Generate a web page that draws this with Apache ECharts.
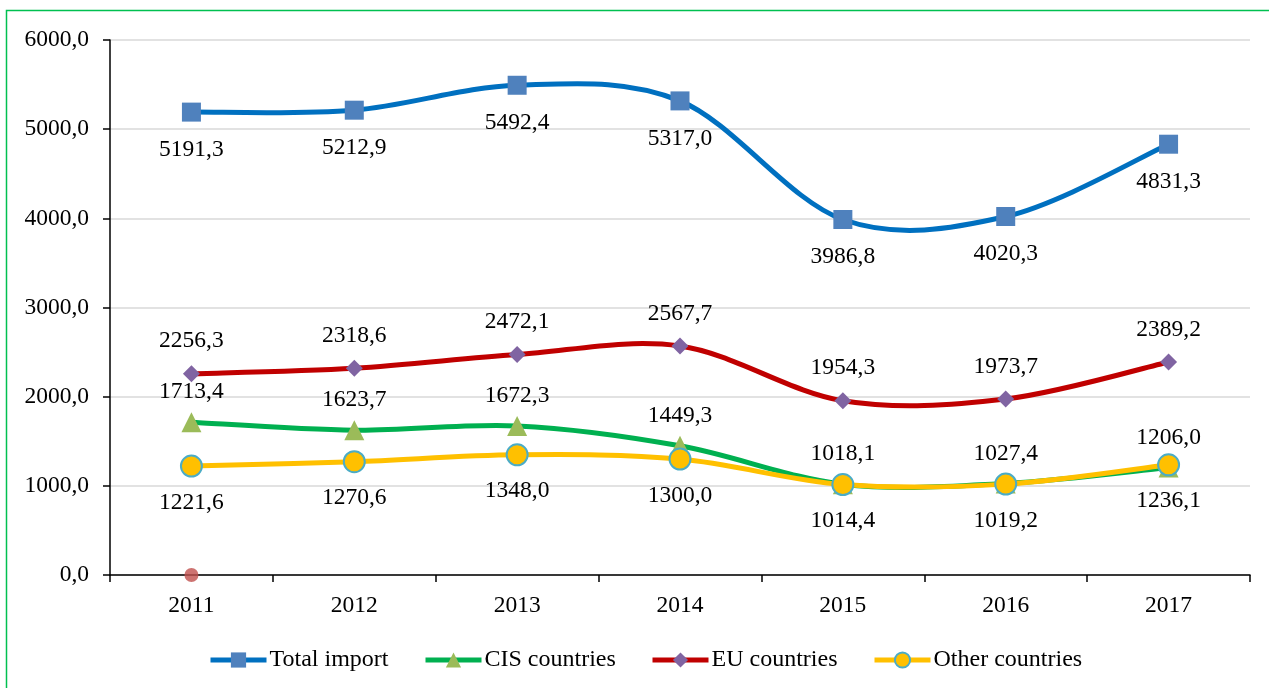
<!DOCTYPE html>
<html>
<head>
<meta charset="UTF-8">
<title>Import</title>
<script src="https://cdn.jsdelivr.net/npm/echarts@6/dist/echarts.min.js"></script>
<style>
  html, body { margin: 0; padding: 0; background: #fff; }
  #chart { width: 1269px; height: 688px; }
</style>
</head>
<body>
<div id="chart"></div>
<script>
var years = ['2011', '2012', '2013', '2014', '2015', '2016', '2017'];
var totalImport = [5191.3, 5212.9, 5492.4, 5317.0, 3986.8, 4020.3, 4831.3];
var cisCountries = [1713.4, 1623.7, 1672.3, 1449.3, 1018.1, 1027.4, 1206.0];
var euCountries = [2256.3, 2318.6, 2472.1, 2567.7, 1954.3, 1973.7, 2389.2];
var otherCountries = [1221.6, 1270.6, 1348.0, 1300.0, 1014.4, 1019.2, 1236.1];
var strayPoint = [0, null, null, null, null, null, null];

var FONT = '"Liberation Serif", "Times New Roman", serif';
var FS = 23.5;

function fmt(v) {
    return Number(v).toFixed(1).replace('.', ',');
}

// excel-like smoothing (catmull-rom), drawn segment by segment
function curveSeries(name, data, color) {
    return {
        name: name,
        type: 'custom',
        z: 1,
        silent: true,
        data: data.map(function (v, i) { return [i, v]; }),
        renderItem: function (params, api) {
            var i = params.dataIndex, n = data.length;
            if (i >= n - 1) return null;
            function pt(k) {
                k = Math.max(0, Math.min(n - 1, k));
                return api.coord([k, data[k]]);
            }
            var p0 = pt(i - 1), p1 = pt(i), p2 = pt(i + 1), p3 = pt(i + 2);
            return {
                type: 'bezierCurve',
                shape: {
                    x1: p1[0], y1: p1[1], x2: p2[0], y2: p2[1],
                    cpx1: p1[0] + (p2[0] - p0[0]) / 6, cpy1: p1[1] + (p2[1] - p0[1]) / 6,
                    cpx2: p2[0] - (p3[0] - p1[0]) / 6, cpy2: p2[1] - (p3[1] - p1[1]) / 6
                },
                style: { stroke: color, lineWidth: 5, fill: null, lineCap: 'round' }
            };
        }
    };
}

function markSeries(name, data, symbol, size, fill, border, pos, dist) {
    return {
        name: name,
        type: 'line',
        z: 3,
        data: data,
        symbol: symbol,
        symbolSize: size,
        showAllSymbol: true,
        lineStyle: { width: 0, opacity: 0 },
        itemStyle: { color: fill, borderColor: border || fill, borderWidth: border ? 2 : 0 },
        label: {
            show: true,
            position: pos,
            distance: dist,
            formatter: function (p) { return fmt(p.value); },
            color: '#000',
            fontFamily: FONT,
            fontSize: FS
        },
        emphasis: { disabled: true }
    };
}

function legendAt(left, name, lineColor) {
    return {
        data: [{ name: name, lineStyle: { color: lineColor, width: 5, opacity: 1 } }],
        top: 643,
        left: left,
        itemWidth: 56,
        itemHeight: 19,
        itemGap: 0,
        selectedMode: false,
        textStyle: { fontFamily: FONT, fontSize: 24, color: '#000', padding: [0, 0, 0, -2] }
    };
}

var chart = echarts.init(document.getElementById('chart'));
chart.setOption({
    animation: false,
    backgroundColor: '#fff',
    graphic: [{
        type: 'rect',
        shape: { x: 6.5, y: 10.5, width: 1300, height: 700 },
        style: { fill: 'none', stroke: '#00c050', lineWidth: 1.5 },
        silent: true
    }],
    grid: { left: 110, top: 40, width: 1140, height: 535 },
    legend: [
        legendAt(203, 'Total import', '#0070c0'),
        legendAt(418, 'CIS countries', '#00b050'),
        legendAt(645, 'EU countries', '#c00000'),
        legendAt(867, 'Other countries', '#ffc000')
    ],
    xAxis: {
        type: 'category',
        data: years,
        boundaryGap: true,
        axisLine: { lineStyle: { color: '#000', width: 1.5 } },
        axisTick: { show: true, length: 7, lineStyle: { color: '#000', width: 1.5 } },
        axisLabel: { margin: 19, color: '#000', fontFamily: FONT, fontSize: FS }
    },
    yAxis: {
        type: 'value',
        min: 0,
        max: 6000,
        interval: 1000,
        axisLine: { show: true, lineStyle: { color: '#000', width: 1.5 } },
        axisTick: { show: true, length: 7, lineStyle: { color: '#000', width: 1.5 } },
        axisLabel: { margin: 21, color: '#000', fontFamily: FONT, fontSize: FS, formatter: fmt },
        splitLine: { lineStyle: { color: '#d9d9d9', width: 1.5 } }
    },
    series: [
        curveSeries('total curve', totalImport, '#0070c0'),
        curveSeries('cis curve', cisCountries, '#00b050'),
        curveSeries('eu curve', euCountries, '#c00000'),
        curveSeries('other curve', otherCountries, '#ffc000'),
        markSeries('Total import', totalImport, 'rect', 19, '#4f81bd', null, 'bottom', 16),
        markSeries('CIS countries', cisCountries, 'triangle', 20, '#9bbb59', null, 'top', 8),
        markSeries('EU countries', euCountries, 'diamond', 17, '#8064a2', null, 'top', 12),
        markSeries('Other countries', otherCountries, 'circle', 21, '#ffc000', '#4bacc6', 'bottom', 13),
        {
            name: 'marker',
            type: 'scatter',
            z: 3,
            data: strayPoint,
            symbolSize: 14,
            itemStyle: { color: '#c0504d' },
            emphasis: { disabled: true }
        }
    ]
});
</script>
</body>
</html>
